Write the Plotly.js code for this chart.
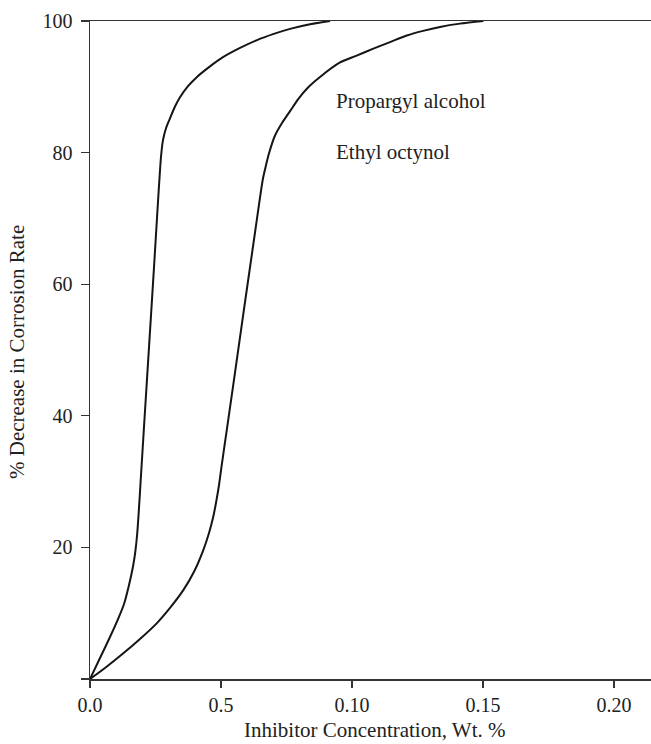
<!DOCTYPE html>
<html>
<head>
<meta charset="utf-8">
<script src="https://cdn.plot.ly/plotly-3.0.1.min.js"></script>
<style>html,body{margin:0;padding:0;background:#fff;}#chart{width:651px;height:744px;}</style>
</head>
<body>
<div id="chart"></div>
<script>
// Propargyl alcohol (left curve)
const propargylX = [0, 0.00382, 0.00763, 0.01069, 0.01298, 0.01489, 0.01641, 0.01725, 0.01800, 0.01862, 0.01935, 0.02053, 0.02286, 0.02443, 0.02599, 0.02660, 0.02715, 0.02786, 0.02901, 0.03053, 0.03244, 0.03435, 0.03740, 0.04084, 0.04580, 0.05076, 0.05725, 0.06374, 0.06985, 0.07634, 0.08397, 0.09160];
const propargylY = [0, 3.19, 6.38, 9.1, 11.4, 14.3, 17.1, 19.2, 22.0, 25.5, 30.2, 37.8, 52.6, 62.6, 72.8, 76.6, 79.6, 81.9, 83.7, 85.2, 87.0, 88.4, 90.1, 91.5, 93.1, 94.5, 95.9, 97.1, 98.0, 98.8, 99.5, 100];
// Ethyl octynol (right curve)
const ethylX = [0, 0.00573, 0.01271, 0.01908, 0.02546, 0.03053, 0.03561, 0.03969, 0.04324, 0.04542, 0.04706, 0.04828, 0.04928, 0.05023, 0.05218, 0.05511, 0.05927, 0.06202, 0.06363, 0.06489, 0.06603, 0.06718, 0.06832, 0.07061, 0.07328, 0.07634, 0.07939, 0.08321, 0.08779, 0.09542, 0.10153, 0.10813, 0.11450, 0.12088, 0.12710, 0.13359, 0.14122, 0.15011];
const ethylY = [0, 1.67, 3.90, 6.08, 8.46, 10.8, 13.5, 16.3, 19.6, 22.2, 24.7, 27.2, 29.6, 32.4, 37.8, 45.9, 57.6, 65.2, 69.7, 73.2, 76.1, 78.1, 79.9, 82.6, 84.5, 86.3, 88.1, 89.9, 91.5, 93.7, 94.7, 95.8, 96.8, 97.8, 98.5, 99.1, 99.6, 100];

const xTickVals = [0, 0.05, 0.10, 0.15, 0.20];
const xTickText = ['0.0', '0.5', '0.10', '0.15', '0.20'];
const yTickVals = [0, 20, 40, 60, 80, 100];
const yTickText = ['', '20', '40', '60', '80', '100'];

const seriesNames = ['Propargyl alcohol', 'Ethyl octynol'];
const xTitle = 'Inhibitor Concentration, Wt. %';
const yTitle = '% Decrease in Corrosion Rate';

const serif = 'Liberation Serif, DejaVu Serif, serif';
const lineStyle = {color: '#151515', width: 2, shape: 'spline', smoothing: 0.8};

const traces = [
  {x: propargylX, y: propargylY, mode: 'lines', name: seriesNames[0], line: lineStyle, hoverinfo: 'skip'},
  {x: ethylX, y: ethylY, mode: 'lines', name: seriesNames[1], line: lineStyle, hoverinfo: 'skip'}
];

const PW = 561, PH = 658;
const px = v => (v - 90) / PW;
const py = v => (679 - v) / PH;

const layout = {
  width: 651, height: 744,
  margin: {l: 90, r: 0, t: 21, b: 65},
  paper_bgcolor: '#fff', plot_bgcolor: '#fff',
  showlegend: false,
  font: {family: serif, size: 20, color: '#222'},
  xaxis: {
    range: [0, 0.2141], showgrid: false, zeroline: false,
    showline: true, linecolor: '#333', linewidth: 1.5, mirror: true,
    ticks: 'outside', ticklen: 7, tickwidth: 1.2, tickcolor: '#333',
    tickvals: xTickVals, ticktext: xTickText,
    tickfont: {family: serif, size: 20, color: '#222'}
  },
  yaxis: {
    range: [0, 100], showgrid: false, zeroline: false,
    showline: true, linecolor: '#333', linewidth: 1.5,
    ticks: 'outside', ticklen: 8, tickwidth: 1.2, tickcolor: '#333',
    ticklabelstandoff: 4,
    tickvals: yTickVals, ticktext: yTickText,
    tickfont: {family: serif, size: 20, color: '#222'}
  },
  annotations: [
    {text: seriesNames[0], xref: 'paper', yref: 'paper', x: px(334), y: py(101), xanchor: 'left', yanchor: 'middle', showarrow: false, font: {family: serif, size: 21, color: '#222'}},
    {text: seriesNames[1], xref: 'paper', yref: 'paper', x: px(334), y: py(152), xanchor: 'left', yanchor: 'middle', showarrow: false, font: {family: serif, size: 21, color: '#222'}},
    {text: xTitle, xref: 'paper', yref: 'paper', x: px(374), y: py(743), xanchor: 'center', yanchor: 'bottom', borderpad: 0, showarrow: false, font: {family: serif, size: 21, color: '#222'}},
    {text: yTitle, xref: 'paper', yref: 'paper', x: px(17), y: py(352), xanchor: 'center', yanchor: 'middle', textangle: -90, showarrow: false, font: {family: serif, size: 21, color: '#222'}}
  ]
};

Plotly.newPlot('chart', traces, layout, {staticPlot: true, displayModeBar: false});
</script>
</body>
</html>
